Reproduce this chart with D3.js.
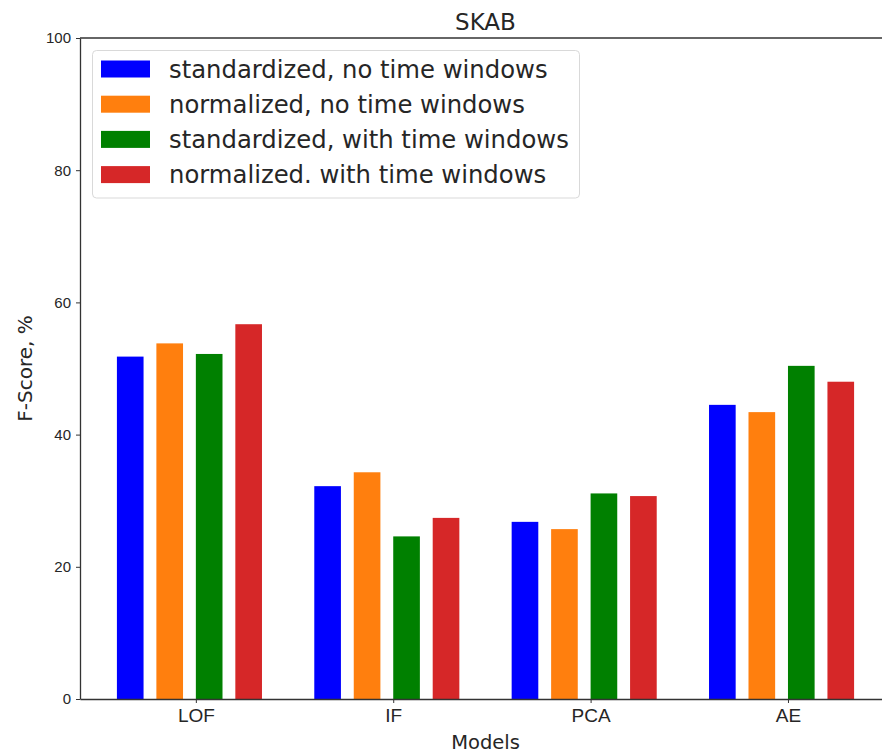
<!DOCTYPE html>
<html>
<head>
<meta charset="utf-8">
<style>
body { margin: 0; background: #fff; }
svg { font-family: "DejaVu Sans", sans-serif; }
.axis path, .axis line { stroke: #333; }
.axis text { fill: #262626; }
</style>
</head>
<body>
<svg width="882" height="753"></svg>
<script src="https://cdn.jsdelivr.net/npm/d3@7"></script>
<script>

var models = ["LOF", "IF", "PCA", "AE"];
var seriesNames = [
  "standardized, no time windows",
  "normalized, no time windows",
  "standardized, with time windows",
  "normalized. with time windows"
];
var colors = ["#0000ff", "#ff7f0e", "#008000", "#d62728"];
var stdNoWin  = [51.8, 32.2, 26.8, 44.5];
var normNoWin = [53.8, 34.3, 25.7, 43.4];
var stdWin    = [52.2, 24.6, 31.1, 50.4];
var normWin   = [56.7, 27.4, 30.7, 48.0];
var yTicks = [0, 20, 40, 60, 80, 100];

var series = [stdNoWin, normNoWin, stdWin, normWin];
var offsets = [-0.4, -0.2, 0, 0.2];
var barW = 0.135;

var svg = d3.select("svg"),
    plotL = 80, plotR = 891, plotT = 38, plotB = 699;

var x = d3.scaleLinear().domain([-0.587, 3.522]).range([plotL, plotR]);
var y = d3.scaleLinear().domain([0, 100]).range([plotB, plotT]);

// bars
series.forEach(function(vals, s) {
  svg.append("g").selectAll("rect")
    .data(vals)
    .enter().append("rect")
      .attr("x", function(d, i) { return x(i + offsets[s]); })
      .attr("width", x(barW) - x(0))
      .attr("y", function(d) { return y(d); })
      .attr("height", function(d) { return y(0) - y(d); })
      .attr("fill", colors[s]);
});

// axes
svg.append("g")
    .attr("class", "axis")
    .attr("transform", "translate(0," + plotB + ")")
    .call(d3.axisBottom(x).tickValues(d3.range(models.length))
      .tickFormat(function(i) { return models[i]; })
      .tickSize(4).tickPadding(6).tickSizeOuter(0))
    .call(function(g) { g.selectAll("text").style("font-size", "19px"); })
    .call(function(g) { g.select(".domain").attr("stroke-width", 1.3); });

svg.append("g")
    .attr("class", "axis")
    .attr("transform", "translate(" + plotL + ",0)")
    .call(d3.axisLeft(y).tickValues(yTicks).tickSize(4).tickPadding(5).tickSizeOuter(0))
    .call(function(g) { g.selectAll("text").style("font-size", "15px"); })
    .call(function(g) { g.select(".domain").attr("stroke-width", 1.3); });

// top spine (right spine falls outside the picture)
svg.append("line").attr("x1", plotL).attr("x2", plotR).attr("y1", plotT).attr("y2", plotT)
    .attr("stroke", "#333").attr("stroke-width", 1.3);

// title and labels
svg.append("text")
    .attr("x", (plotL + plotR) / 2).attr("y", 30)
    .attr("text-anchor", "middle")
    .style("font-size", "23px").attr("fill", "#262626")
    .text("SKAB");

svg.append("text")
    .attr("x", (plotL + plotR) / 2).attr("y", 749)
    .attr("text-anchor", "middle")
    .style("font-size", "19.5px").attr("fill", "#262626")
    .text("Models");

svg.append("text")
    .attr("transform", "translate(32," + (plotT + plotB) / 2 + ") rotate(-90)")
    .attr("text-anchor", "middle")
    .style("font-size", "20px").attr("fill", "#262626")
    .text("F-Score, %");

// legend
var legend = svg.append("g");
legend.append("rect")
    .attr("x", 92.5).attr("y", 50.5).attr("width", 487).attr("height", 147.5)
    .attr("rx", 4).attr("fill", "#fff").attr("fill-opacity", 0.8)
    .attr("stroke", "#d9d9d9");

var rows = legend.selectAll("g.row")
    .data(seriesNames)
    .enter().append("g")
      .attr("transform", function(d, i) { return "translate(0," + (69 + i * 35.2) + ")"; });

rows.append("rect")
    .attr("x", 101).attr("y", -8.5).attr("width", 49).attr("height", 17)
    .attr("fill", function(d, i) { return colors[i]; });

rows.append("text")
    .attr("x", 169).attr("y", 8.5)
    .style("font-size", "24.3px").attr("fill", "#262626")
    .text(function(d) { return d; });

</script>
</body>
</html>
